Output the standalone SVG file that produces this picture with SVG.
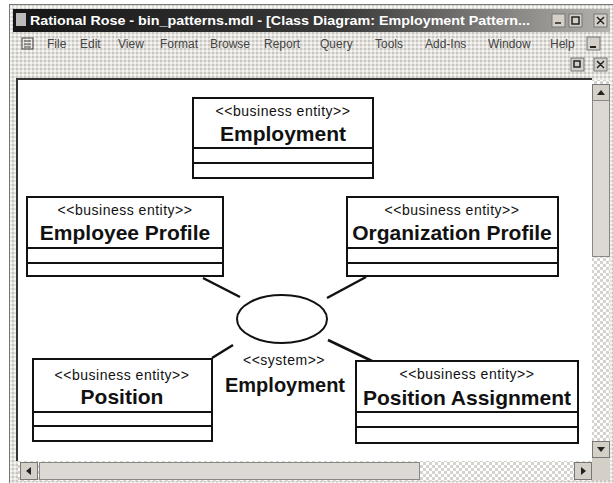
<svg xmlns="http://www.w3.org/2000/svg" width="613" height="483" viewBox="0 0 613 483">
<defs>
<linearGradient id="tb" x1="0" y1="0" x2="1" y2="0">
<stop offset="0" stop-color="#161616"/>
<stop offset="0.55" stop-color="#3a3a3a"/>
<stop offset="1" stop-color="#b4b2ae"/>
</linearGradient>
<pattern id="dith" width="4" height="4" patternUnits="userSpaceOnUse">
<rect width="4" height="4" fill="#e4e2de"/>
<rect width="2" height="2" fill="#c9c6c0"/>
<rect x="2" y="2" width="2" height="2" fill="#f6f5f3"/>
</pattern>
<pattern id="track" width="6" height="6" patternUnits="userSpaceOnUse">
<rect width="6" height="6" fill="#d6d3ce"/>
<rect width="3" height="3" fill="#ffffff"/>
<rect x="3" y="3" width="3" height="3" fill="#ffffff"/>
</pattern>
<style>
.box{fill:#fff;stroke:#111;stroke-width:2}
.div{stroke:#111;stroke-width:2}
.st{font-family:"Liberation Sans",Arial,sans-serif;font-size:14px;letter-spacing:0.5px;text-anchor:middle;fill:#111}
.ti{font-family:"Liberation Sans",Arial,sans-serif;font-size:21px;font-weight:bold;text-anchor:middle;fill:#111}
.menu{font-family:"Liberation Sans",Arial,sans-serif;font-size:12px;fill:#444}
.conn line{stroke:#111;stroke-width:2.5}
.btn{fill:#d4d0c8;stroke:#777;stroke-width:1}
</style>
</defs>
<rect width="613" height="483" fill="#fff"/>
<g id="window">
<rect x="9.5" y="4.5" width="604" height="479" fill="url(#dith)" stroke="#777"/>
<rect x="13" y="9" width="597" height="23" fill="url(#tb)"/>
<rect x="16" y="13" width="10" height="13" fill="#bbb"/>
<text x="30" y="25" font-family="Liberation Sans,Arial,sans-serif" font-size="12" font-weight="bold" fill="#fff" textLength="500" lengthAdjust="spacingAndGlyphs">Rational Rose - bin_patterns.mdl - [Class Diagram: Employment Pattern...</text>
<rect x="552" y="14" width="13" height="13" class="btn"/>
<rect x="569" y="14" width="13" height="13" class="btn"/>
<rect x="594" y="14" width="13" height="13" class="btn"/>
<path d="M555 23h6M572 17h7v7h-7zM597 17l7 7M604 17l-7 7" stroke="#222" stroke-width="1.5" fill="none"/>
<rect x="22" y="38" width="11" height="11" fill="none" stroke="#444"/>
<path d="M24 41h7M24 44h7M24 47h7" stroke="#444"/>
<text class="menu" x="47" y="48">File</text>
<text class="menu" x="80" y="48">Edit</text>
<text class="menu" x="118" y="48">View</text>
<text class="menu" x="160" y="48">Format</text>
<text class="menu" x="210" y="48">Browse</text>
<text class="menu" x="264" y="48">Report</text>
<text class="menu" x="320" y="48">Query</text>
<text class="menu" x="375" y="48">Tools</text>
<text class="menu" x="425" y="48">Add-Ins</text>
<text class="menu" x="488" y="48">Window</text>
<text class="menu" x="550" y="48">Help</text>
<rect x="587" y="37" width="13" height="13" class="btn"/>
<path d="M590 47h6" stroke="#222" stroke-width="2"/>
<rect x="571" y="58" width="13" height="13" class="btn"/>
<rect x="594" y="58" width="13" height="13" class="btn"/>
<path d="M574 61h6v6h-6zM597 61l7 7M604 61l-7 7" stroke="#222" stroke-width="1.5" fill="none"/>
<rect x="17" y="79" width="575" height="382" fill="#fff"/>
<path d="M17 461V79H592" stroke="#333" stroke-width="2" fill="none"/>
<rect x="592" y="80" width="18" height="378" fill="url(#track)"/>
<rect x="592.5" y="84.5" width="17" height="16" class="btn"/>
<path d="M597 95l4-5 4 5z" fill="#222"/>
<rect x="592.5" y="100.5" width="17" height="156" fill="#dcd9d4" stroke="#888"/>
<rect x="592.5" y="441.5" width="17" height="16" class="btn"/>
<path d="M597 447l4 5 4-5z" fill="#222"/>
<rect x="592" y="458" width="18" height="22" fill="#d4d0c8"/>
<rect x="18" y="461" width="574" height="20" fill="url(#track)"/>
<rect x="20.5" y="462.5" width="17" height="17" class="btn"/>
<path d="M31 467l-5 4 5 4z" fill="#222"/>
<rect x="39.5" y="462.5" width="380" height="17" fill="#dcd9d4" stroke="#888"/>
<rect x="574.5" y="462.5" width="17" height="17" class="btn"/>
<path d="M581 467l5 4-5 4z" fill="#222"/>
</g>
<g id="conn" class="conn">
<line x1="203" y1="278" x2="240" y2="297"/>
<line x1="327" y1="298" x2="366" y2="277"/>
<line x1="233" y1="345" x2="212" y2="358"/>
<line x1="328" y1="340" x2="372" y2="361"/>
</g>
<g id="employment">
<rect class="box" x="193" y="98" width="180" height="80"/>
<line class="div" x1="193" y1="148" x2="373" y2="148"/>
<line class="div" x1="193" y1="163" x2="373" y2="163"/>
<text class="st" x="283" y="116">&lt;&lt;business entity&gt;&gt;</text>
<text class="ti" x="283" y="141">Employment</text>
</g>
<g id="employee-profile">
<rect class="box" x="27" y="197" width="196" height="79"/>
<line class="div" x1="27" y1="248" x2="223" y2="248"/>
<line class="div" x1="27" y1="263" x2="223" y2="263"/>
<text class="st" x="125" y="215">&lt;&lt;business entity&gt;&gt;</text>
<text class="ti" x="125" y="240">Employee Profile</text>
</g>
<g id="organization-profile">
<rect class="box" x="347" y="197" width="211" height="79"/>
<line class="div" x1="347" y1="248" x2="558" y2="248"/>
<line class="div" x1="347" y1="263" x2="558" y2="263"/>
<text class="st" x="452" y="215">&lt;&lt;business entity&gt;&gt;</text>
<text class="ti" x="452" y="240">Organization Profile</text>
</g>
<g id="system-employment">
<ellipse cx="282" cy="319" rx="45" ry="24" fill="#fff" stroke="#111" stroke-width="2"/>
<text class="st" x="284" y="365">&lt;&lt;system&gt;&gt;</text>
<text class="ti" x="285" y="392" style="font-size:20px">Employment</text>
</g>
<g id="position">
<rect class="box" x="33" y="359" width="179" height="82"/>
<line class="div" x1="33" y1="412" x2="212" y2="412"/>
<line class="div" x1="33" y1="426" x2="212" y2="426"/>
<text class="st" x="122" y="380">&lt;&lt;business entity&gt;&gt;</text>
<text class="ti" x="122" y="404">Position</text>
</g>
<g id="position-assignment">
<rect class="box" x="356" y="361" width="222" height="82"/>
<line class="div" x1="356" y1="412" x2="578" y2="412"/>
<line class="div" x1="356" y1="427" x2="578" y2="427"/>
<text class="st" x="467" y="379">&lt;&lt;business entity&gt;&gt;</text>
<text class="ti" x="467" y="405">Position Assignment</text>
</g>
</svg>
